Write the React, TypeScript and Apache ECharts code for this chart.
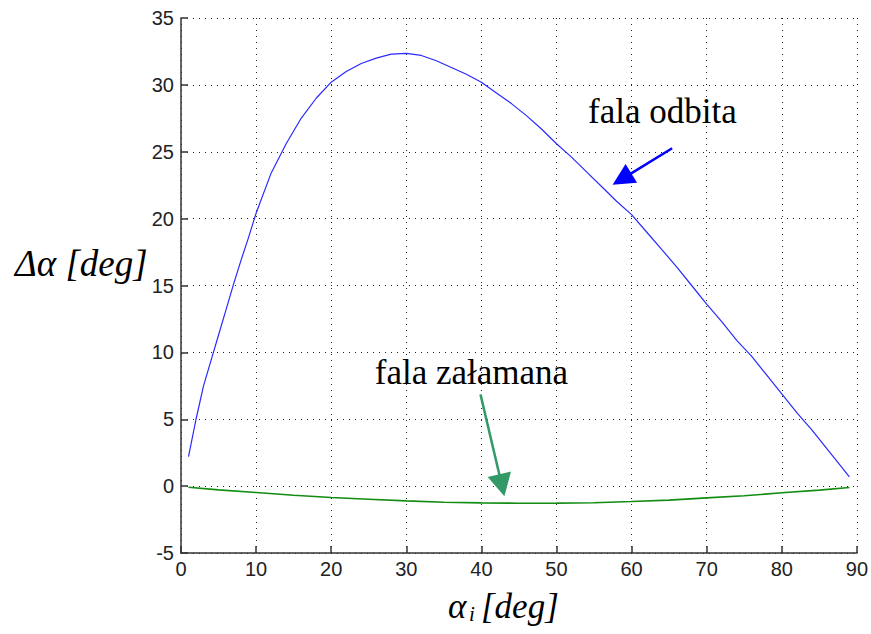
import React, { useEffect, useRef } from "react";
import * as echarts from "echarts";

// Reflected wave ("fala odbita") – blue curve
const reflectedX = [1, 2, 3, 4, 5, 6, 7, 8, 9, 10, 12, 14, 16, 18, 20, 22, 24, 26, 28, 30, 32, 34, 36, 38, 40, 42, 44, 46, 48, 50, 52, 54, 56, 58, 60, 62, 64, 66, 68, 70, 72, 74, 76, 78, 80, 82, 84, 86, 88, 89];
const reflectedY = [2.2, 5.0, 7.5, 9.4, 11.3, 13.2, 15.1, 16.9, 18.6, 20.4, 23.4, 25.6, 27.5, 29.0, 30.2, 31.0, 31.6, 32.0, 32.3, 32.35, 32.2, 31.8, 31.3, 30.8, 30.2, 29.4, 28.6, 27.7, 26.7, 25.6, 24.6, 23.5, 22.4, 21.3, 20.3, 19.0, 17.7, 16.4, 15.0, 13.6, 12.3, 10.9, 9.7, 8.3, 6.9, 5.5, 4.2, 2.8, 1.4, 0.7];

// Refracted wave ("fala załamana") – green curve
const refractedX = [1, 5, 10, 15, 20, 25, 30, 35, 40, 45, 50, 55, 60, 65, 70, 75, 80, 85, 89];
const refractedY = [-0.08, -0.28, -0.48, -0.68, -0.85, -0.98, -1.1, -1.2, -1.25, -1.28, -1.27, -1.24, -1.15, -1.05, -0.88, -0.72, -0.5, -0.3, -0.1];

// Axis ranges / ticks
const xMin = 0, xMax = 90, xStep = 10;
const yMin = -5, yMax = 35, yStep = 5;

// Annotations (data coordinates)
const annotReflectedText = { label: "fala odbita", at: [54.2, 28.0] };
const annotRefractedText = { label: "fala załamana", at: [25.8, 8.5] };
const arrowReflected = { from: [65.4, 25.26], to: [57.47, 22.53] };
const arrowRefracted = { from: [39.88, 6.86], to: [43.07, -0.75] };

const SERIF = "Liberation Serif";
const SANS = "Liberation Sans";

function arrowGraphics(t: number[], p: number[], color: string, headLen: number, halfW: number, lw: number) {
  const dx = p[0] - t[0], dy = p[1] - t[1];
  const L = Math.sqrt(dx * dx + dy * dy);
  const ux = dx / L, uy = dy / L;
  const bx = p[0] - ux * headLen, by = p[1] - uy * headLen;
  const nx = -uy, ny = ux;
  return [
    { type: "line", shape: { x1: t[0], y1: t[1], x2: bx + ux * 2, y2: by + uy * 2 }, style: { stroke: color, lineWidth: lw }, z: 100 },
    { type: "polygon", shape: { points: [[p[0], p[1]], [bx + nx * halfW, by + ny * halfW], [bx - nx * halfW, by - ny * halfW]] }, style: { fill: color }, z: 100 },
  ];
}

function txt(x: number, y: number, text: string, size: number, italic: boolean) {
  return {
    type: "text", x, y, z: 100,
    style: { text, fontSize: size, fontFamily: SERIF, fontStyle: italic ? "italic" : "normal", fill: "#000", align: "left", verticalAlign: "middle" },
  };
}

export default function App() {
  const ref = useRef<HTMLDivElement>(null);
  useEffect(() => {
    const chart = echarts.init(ref.current!, null, { renderer: "svg" });
    const axisCommon = {
      type: "value",
      axisLine: { show: true, onZero: false, lineStyle: { color: "#333", width: 1.5 } },
      axisTick: { show: true, inside: true, length: 7, lineStyle: { color: "#333", width: 1.5 } },
      splitLine: { show: true, lineStyle: { type: [1, 5], color: "#222", width: 1 } },
    };
    chart.setOption({
      animation: false,
      backgroundColor: "#ffffff",
      grid: { left: 181, top: 18, right: 13, bottom: 81, containLabel: false },
      xAxis: {
        ...axisCommon,
        min: xMin, max: xMax, interval: xStep,
        axisLabel: { color: "#222", fontSize: 20, fontFamily: SANS, margin: 6 },
      },
      yAxis: {
        ...axisCommon,
        min: yMin, max: yMax, interval: yStep,
        axisLabel: { color: "#222", fontSize: 20, fontFamily: SANS, margin: 7 },
      },
      series: [
        {
          type: "line",
          name: "fala odbita",
          data: reflectedX.map((x, i) => [x, reflectedY[i]]),
          showSymbol: false,
          lineStyle: { color: "#2a2aff", width: 1.2 },
          z: 3,
        },
        {
          type: "line",
          name: "fala załamana",
          data: refractedX.map((x, i) => [x, refractedY[i]]),
          showSymbol: false,
          lineStyle: { color: "#128c12", width: 1.6 },
          z: 3,
        },
      ],
    });

    const px = (v: number[]) => chart.convertToPixel({ gridIndex: 0 }, v) as number[];
    const tOdb = px(annotReflectedText.at);
    const tZal = px(annotRefractedText.at);
    const graphic: any[] = [
      txt(tOdb[0], tOdb[1], annotReflectedText.label, 35, false),
      txt(tZal[0], tZal[1], annotRefractedText.label, 35, false),
      ...arrowGraphics(px(arrowReflected.from), px(arrowReflected.to), "#0000ff", 22, 11, 2.5),
      ...arrowGraphics(px(arrowRefracted.from), px(arrowRefracted.to), "#339966", 22.5, 12, 2.5),
      // axis titles
      txt(15, 263, "Δα [deg]", 37, true),
      txt(448, 606, "α", 35, true),
      txt(469, 614, "i", 21, true),
      txt(481, 606, "[deg]", 35, true),
    ];
    chart.setOption({ graphic });
    return () => chart.dispose();
  }, []);
  return <div ref={ref} style={{ position: "fixed", left: 0, top: 0, width: 871, height: 634, background: "#fff" }} />;
}
